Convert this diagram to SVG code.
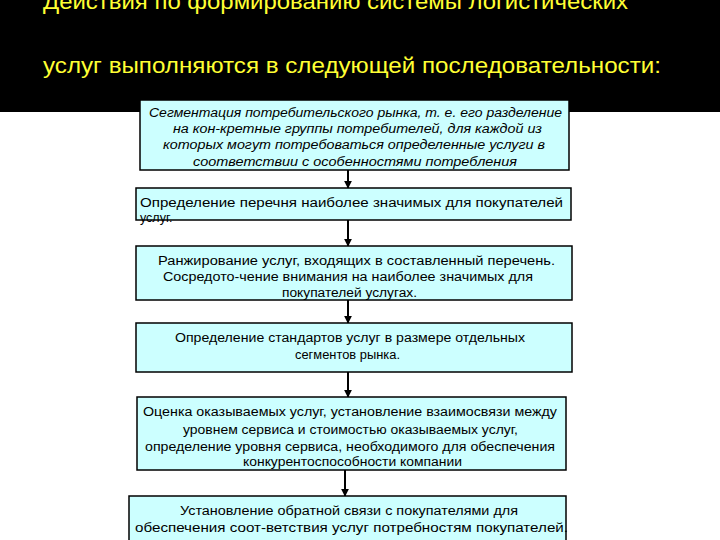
<svg xmlns="http://www.w3.org/2000/svg" width="720" height="540" viewBox="0 0 720 540">
<style>
.title{font-family:"Liberation Sans","DejaVu Sans",sans-serif;font-size:22px;fill:#ffff33}
.box{fill:#ccffff;stroke:#000;stroke-width:1.5}
.t{font-family:"Liberation Sans","DejaVu Sans",sans-serif;font-size:12.5px;fill:#000}
.it{font-style:italic}
.conn{stroke:#000;stroke-width:2;fill:none;marker-end:url(#arr)}
</style>
<defs>
<marker id="arr" viewBox="0 0 10 10" refX="9" refY="5" markerWidth="4" markerHeight="4" orient="auto" markerUnits="strokeWidth">
<path d="M0,0 L10,5 L0,10 z" fill="#000"/>
</marker>
</defs>
<rect x="0" y="0" width="720" height="540" fill="#fff"/>
<rect x="0" y="0" width="720" height="112" fill="#000"/>
<g id="title">
<text class="title" x="43" y="9" textLength="585" lengthAdjust="spacingAndGlyphs">Действия по формированию системы логистических</text>
<text class="title" x="43" y="73" textLength="618" lengthAdjust="spacingAndGlyphs">услуг выполняются в следующей последовательности:</text>
</g>
<g id="connectors">
<line class="conn" x1="348" y1="170" x2="348" y2="188"/>
<line class="conn" x1="348" y1="220" x2="348" y2="246"/>
<line class="conn" x1="348" y1="300" x2="348" y2="323"/>
<line class="conn" x1="348" y1="372" x2="348" y2="397"/>
<line class="conn" x1="345" y1="470" x2="345" y2="496"/>
</g>
<g id="n1">
<rect class="box" x="140" y="100" width="429" height="70"/>
<text class="t it" x="149" y="117" textLength="413" lengthAdjust="spacingAndGlyphs">Сегментация потребительского рынка, т. е. его разделение</text>
<text class="t it" x="173" y="133" textLength="369" lengthAdjust="spacingAndGlyphs">на кон-кретные группы  потребителей, для каждой из</text>
<text class="t it" x="163" y="149" textLength="382" lengthAdjust="spacingAndGlyphs">которых могут потребоваться определенные  услуги в</text>
<text class="t it" x="193" y="166" textLength="324" lengthAdjust="spacingAndGlyphs">соответствии  с особенностями  потребления</text>
</g>
<g id="n2">
<rect class="box" x="136" y="188" width="435" height="32"/>
<text class="t" x="140" y="207" textLength="423" lengthAdjust="spacingAndGlyphs">Определение перечня наиболее значимых для покупателей</text>
<text class="t" x="140" y="222">услуг.</text>
</g>
<g id="n3">
<rect class="box" x="136" y="246" width="436" height="54"/>
<text class="t" x="158" y="265" textLength="397" lengthAdjust="spacingAndGlyphs">Ранжирование услуг, входящих в составленный  перечень.</text>
<text class="t" x="163" y="281" textLength="370" lengthAdjust="spacingAndGlyphs">Сосредото-чение внимания на наиболее значимых для</text>
<text class="t" x="282" y="297" textLength="135" lengthAdjust="spacingAndGlyphs">покупателей услугах.</text>
</g>
<g id="n4">
<rect class="box" x="136" y="323" width="436" height="49"/>
<text class="t" x="175" y="342" textLength="350" lengthAdjust="spacingAndGlyphs">Определение стандартов услуг в размере отдельных</text>
<text class="t" x="295" y="359" textLength="105" lengthAdjust="spacingAndGlyphs">сегментов рынка.</text>
</g>
<g id="n5">
<rect class="box" x="137" y="397" width="429" height="73"/>
<text class="t" x="143" y="416" textLength="414" lengthAdjust="spacingAndGlyphs">Оценка оказываемых услуг,  установление взаимосвязи между</text>
<text class="t" x="183" y="434" textLength="335" lengthAdjust="spacingAndGlyphs">уровнем сервиса и стоимостью оказываемых услуг,</text>
<text class="t" x="145" y="451" textLength="410" lengthAdjust="spacingAndGlyphs">определение уровня сервиса, необходимого для обеспечения</text>
<text class="t" x="243" y="466" textLength="219" lengthAdjust="spacingAndGlyphs">конкурентоспособности компании</text>
</g>
<g id="n6">
<rect class="box" x="129" y="496" width="437" height="50"/>
<text class="t" x="180" y="515" textLength="338" lengthAdjust="spacingAndGlyphs">Установление обратной связи с покупателями для</text>
<text class="t" x="135" y="532" textLength="433" lengthAdjust="spacingAndGlyphs">обеспечения соот-ветствия услуг потребностям   покупателей.</text>
</g>
</svg>
